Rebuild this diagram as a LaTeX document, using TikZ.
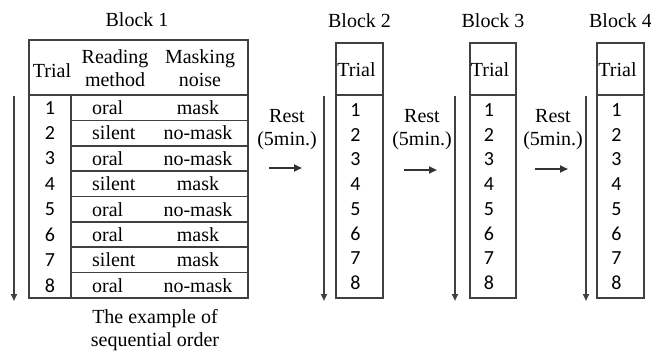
\documentclass[tikz,border=0pt]{standalone}
\usepackage{fontspec}
\setmainfont{Liberation Serif}
\newfontfamily\numfont{Carlito}
\usetikzlibrary{arrows.meta}

\begin{document}
\begin{tikzpicture}[x=1pt,y=-1pt,
  txt/.style={font=\fontsize{20}{23}\selectfont, inner sep=0pt, align=center},
  num/.style={font=\numfont\fontsize{20}{22}\selectfont, inner sep=0pt},
  frame/.style={draw=black!75, line width=1.7pt},
  flow/.style={draw=black!80, line width=2.2pt, -{Triangle[length=8pt,width=7pt]}},
  order/.style={draw=black!75, line width=1.9pt, -{Triangle[length=7pt,width=6pt]}}]
\useasboundingbox (0,0) rectangle (651,353);

% ---- Block 1: full condition table ----
\node[txt] (b1) at (137,20) {Block 1};
\draw[frame] (29,40) rectangle (248,298);
\draw[frame] (29,95) -- (248,95);
\draw[frame] (71,95) -- (71,298);
\foreach \i in {1,...,7}
  \draw[frame] (71,{95+25.375*\i}) -- (248,{95+25.375*\i});

\node[txt] (h1) at (52,71) {Trial};
\node[txt] (h2) at (115,68) {Reading\\method};
\node[txt] (h3) at (200,68) {Masking\\noise};

\foreach \i/\rm/\mk in {1/oral/mask, 2/silent/no-mask, 3/oral/no-mask,
                        4/silent/mask, 5/oral/no-mask, 6/oral/mask,
                        7/silent/mask, 8/oral/no-mask} {
  \node[num] (t1-\i) at (50,{95+25.375*(\i-0.5)}) {\i};
  \node[txt, anchor=west] (r1-\i) at (92,{95+25.375*(\i-0.5)}) {\rm};
  \node[txt] (m1-\i) at (198,{95+25.375*(\i-0.5)}) {\mk};
}

\coordinate (o1s) at (14,96);
\coordinate (o1e) at (14,301);
\draw[order] (o1s) -- (o1e);

\node[txt] (cap) at (155,330) {The example of\\sequential order};

% ---- Blocks 2-4: trial columns ----
\foreach \k/\xl/\xr/\xa in {2/336/383/324, 3/470/516/455, 4/597/644/586} {
  \node[txt] (b\k) at ({(\xl+\xr)/2},21) {Block \k};
  \draw[frame] (\xl,43) rectangle (\xr,298);
  \draw[frame] (\xl,95) -- (\xr,95);
  \node[txt] (h\k) at ({(\xl+\xr)/2-3},70) {Trial};
  \foreach \i in {1,...,8}
    \node[num] (t\k-\i) at ({(\xl+\xr)/2-4},{110+24.7*(\i-1)}) {\i};
  \coordinate (o\k s) at (\xa,96);
  \coordinate (o\k e) at (\xa,301);
  \draw[order] (o\k s) -- (o\k e);
}

% ---- rest periods between blocks ----
\foreach \j/\xc/\ya in {1/287/168, 2/422/170, 3/553/169} {
  \node[txt] (rest\j) at (\xc,130) {Rest\\(5min.)};
  \coordinate (ra\j) at ({\xc-18},\ya);
  \coordinate (rb\j) at ({\xc+15},\ya);
  \draw[flow] (ra\j) -- (rb\j);
}
\end{tikzpicture}
\end{document}
